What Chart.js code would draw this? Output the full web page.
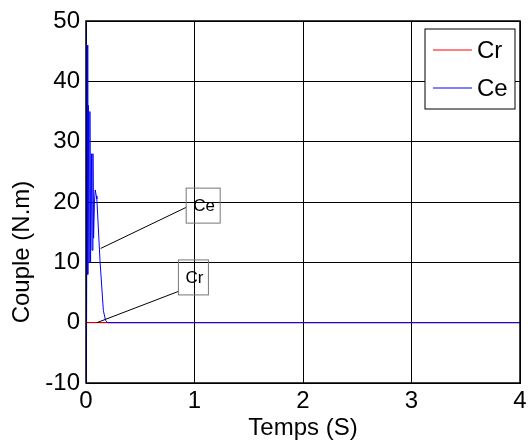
<!DOCTYPE html>
<html>
<head>
<meta charset="utf-8">
<script src="https://cdn.jsdelivr.net/npm/chart.js@4"></script>
<style>
  html, body { margin: 0; padding: 0; background: #fff; }
  #wrap { width: 528px; height: 441px; }
</style>
</head>
<body>
<div id="wrap"><canvas id="myChart" width="528" height="441"></canvas></div>
<script>
// time (s) and torque values
const tCe = [0, 0.001, 0.003, 0.006, 0.009, 0.012, 0.016, 0.022, 0.028, 0.036, 0.042, 0.05, 0.056, 0.064, 0.07, 0.078, 0.085, 0.095, 0.1, 0.13, 0.16, 0.18, 0.2, 4];
const ce  = [0, 50, -10, 46, -4, 46, 8, 36, 10, 35, 10, 28, 12, 28, 14, 20, 22, 21, 20.5, 10, 2, 0.4, 0, 0];
const tCr = [0, 0.22, 4];
const cr  = [0, 0, 0];

const xTicks = [0, 1, 2, 3, 4];
const yTicks = [-10, 0, 10, 20, 30, 40, 50];

const seriesNames = ['Cr', 'Ce'];
const xTitle = 'Temps (S)';
const yTitle = 'Couple (N.m)';

// text boxes pointing at the curves (data coordinates)
const notes = [
    { text: 'Ce', bx: 1.08, by: 19.4, tx: 0.135, ty: 12.3, w: 34, h: 35, fy: 0.55 },
    { text: 'Cr', bx: 0.99, by: 7.5, tx: 0.1, ty: 0, w: 30, h: 35, fy: 0.9 }
];

const FONT = '"Liberation Sans", Arial, sans-serif';

function pts(xs, ys) {
    return xs.map((x, i) => ({ x: x, y: ys[i] }));
}

const extras = {
    id: 'extras',
    afterDraw(chart) {
        const c = chart.ctx;
        const xs = chart.scales.x, ys = chart.scales.y;
        const a = chart.chartArea;

        c.save();
        // frame
        c.strokeStyle = '#000';
        c.lineWidth = 1.5;
        c.strokeRect(a.left, a.top, a.right - a.left, a.bottom - a.top);

        // annotations
        c.font = '17px ' + FONT;
        c.textAlign = 'center';
        c.textBaseline = 'middle';
        notes.forEach(n => {
            const cx = xs.getPixelForValue(n.bx);
            const cy = ys.getPixelForValue(n.by);
            const l = cx - n.w / 2, t = cy - n.h / 2;
            c.strokeStyle = '#000';
            c.lineWidth = 1;
            c.beginPath();
            c.moveTo(l, t + n.h * n.fy);
            c.lineTo(xs.getPixelForValue(n.tx), ys.getPixelForValue(n.ty));
            c.stroke();
            c.strokeStyle = '#777';
            c.strokeRect(l, t, n.w, n.h);
            c.fillStyle = '#000';
            c.fillText(n.text, cx + 1, cy + 1);
        });

        // legend
        const lx = a.right - 95, ly = a.top + 8, lw = 90, lh = 80;
        c.fillStyle = '#fff';
        c.fillRect(lx, ly, lw, lh);
        c.strokeStyle = '#000';
        c.lineWidth = 1;
        c.strokeRect(lx, ly, lw, lh);
        c.font = '24px ' + FONT;
        c.textAlign = 'left';
        chart.data.datasets.forEach((ds, i) => {
            const y = ly + 21 + i * 38;
            c.strokeStyle = ds.borderColor;
            c.beginPath();
            c.moveTo(lx + 8, y);
            c.lineTo(lx + 47, y);
            c.stroke();
            c.fillStyle = '#000';
            c.fillText(ds.label, lx + 52, y + 1);
        });

        // axis titles
        c.font = '24px ' + FONT;
        c.textAlign = 'center';
        c.fillText(xTitle, (a.left + a.right) / 2, 428);
        c.translate(22, 252);
        c.rotate(-Math.PI / 2);
        c.fillText(yTitle, 0, 0);
        c.restore();
    }
};

new Chart(document.getElementById('myChart'), {
    type: 'line',
    data: {
        datasets: [{
            label: seriesNames[0],
            data: pts(tCr, cr),
            borderColor: '#ff0000',
            borderWidth: 1,
            pointRadius: 0,
            tension: 0,
            order: 1
        }, {
            label: seriesNames[1],
            data: pts(tCe, ce),
            borderColor: '#0000ff',
            borderWidth: 1,
            pointRadius: 0,
            tension: 0,
            order: 0
        }]
    },
    options: {
        responsive: false,
        animation: false,
        layout: { padding: { top: 21, right: 8, left: 0, bottom: 0 } },
        plugins: { legend: { display: false }, tooltip: { enabled: false } },
        scales: {
            x: {
                type: 'linear',
                min: 0, max: 4,
                afterBuildTicks: s => { s.ticks = xTicks.map(v => ({ value: v })); },
                afterFit: s => { s.height = 58; s.paddingLeft = 0; s.paddingRight = 0; },
                ticks: { color: '#000', font: { family: FONT, size: 24 }, padding: 4, maxRotation: 0 },
                grid: { color: '#000', lineWidth: 1, drawTicks: false },
                border: { color: '#000' }
            },
            y: {
                min: -10, max: 50,
                afterBuildTicks: s => { s.ticks = yTicks.map(v => ({ value: v })); },
                afterFit: s => { s.width = 86; s.paddingTop = 0; s.paddingBottom = 0; },
                ticks: { color: '#000', font: { family: FONT, size: 24 }, padding: 6 },
                grid: { color: '#000', lineWidth: 1, drawTicks: false },
                border: { color: '#000' }
            }
        }
    },
    plugins: [extras]
});
</script>
</body>
</html>
